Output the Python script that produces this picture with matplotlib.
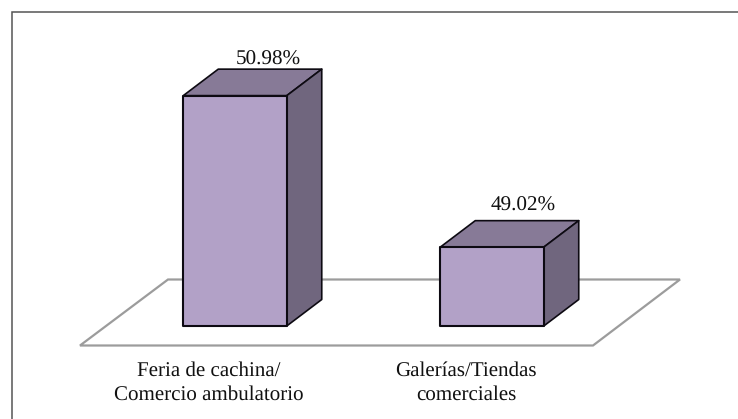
import matplotlib
matplotlib.use('Agg')
import matplotlib.pyplot as plt
from matplotlib.patches import Polygon

categories = ['Feria de cachina/\nComercio ambulatorio', 'Galerías/Tiendas\ncomerciales']
values = [50.98, 49.02]
labels = ['50.98%', '49.02%']

base = 48.0
unit_px = 77.3  # pixels per percentage point
cat_px = 257.0  # pixels between categories
bar_w = 103.5 / cat_px
dx = 35.0 / cat_px
dy = 26.5 / unit_px

plt.rcParams['font.family'] = ['Liberation Serif', 'DejaVu Serif']
plt.rcParams['text.hinting'] = 'no_hinting'

fig = plt.figure(figsize=(7.38, 4.19), dpi=100)
ax = fig.add_axes([0, 0, 1, 1])
# axes fills the figure, limits put base at y=326px and first bar centre at x=235px
ax.set_xlim(-235.0 / cat_px, (738 - 235.0) / cat_px)
ax.set_ylim(base - (419 - 326) / unit_px, base + 326 / unit_px)
ax.axis('off')

# floor
front = base - 19.5 / unit_px
back = base + 46.5 / unit_px
floor_x = [0 - 155.0 / cat_px, 1 + 101.0 / cat_px, 1 + 188.0 / cat_px, 0 - 67.0 / cat_px]
floor_y = [front, front, back, back]
ax.add_patch(Polygon(list(zip(floor_x, floor_y)), closed=True, fc='white', ec='#9c9c9c', lw=1.6))

# value label offsets in pixels, they are not placed the same over both bars
label_dx = [15.5, 13.5]
label_gap = [4.5, 9.5]

for i, v in enumerate(values):
    x0 = i - bar_w / 2
    x1 = i + bar_w / 2
    ax.add_patch(Polygon([(x0, v), (x1, v), (x1 + dx, v + dy), (x0 + dx, v + dy)], closed=True,
                         fc='#877a97', ec='#0d0a12', lw=1.2, joinstyle='round'))
    ax.add_patch(Polygon([(x1, base), (x1 + dx, base + dy), (x1 + dx, v + dy), (x1, v)], closed=True,
                         fc='#70667e', ec='#0d0a12', lw=1.2, joinstyle='round'))
    ax.add_patch(Polygon([(x0, base), (x1, base), (x1, v), (x0, v)], closed=True,
                         fc='#b2a1c7', ec='#0d0a12', lw=1.5, joinstyle='round'))
    ax.text(i + dx / 2 + label_dx[i] / cat_px, v + dy + label_gap[i] / unit_px, labels[i],
            ha='center', va='baseline', fontsize=15.2, color='#111111')
    ax.text(i - 26 / cat_px, base - 35.5 / unit_px, categories[i], ha='center', va='top',
            fontsize=15.1, color='#111111', linespacing=1.33)

# chart border, only left and top show in the picture
ax.plot([11.5 / 738, 11.5 / 738, 1], [0, 1 - 12.5 / 419, 1 - 12.5 / 419], transform=ax.transAxes,
        color='#555555', lw=1.1, solid_joinstyle='miter')

fig.savefig('out.png', dpi=100)
